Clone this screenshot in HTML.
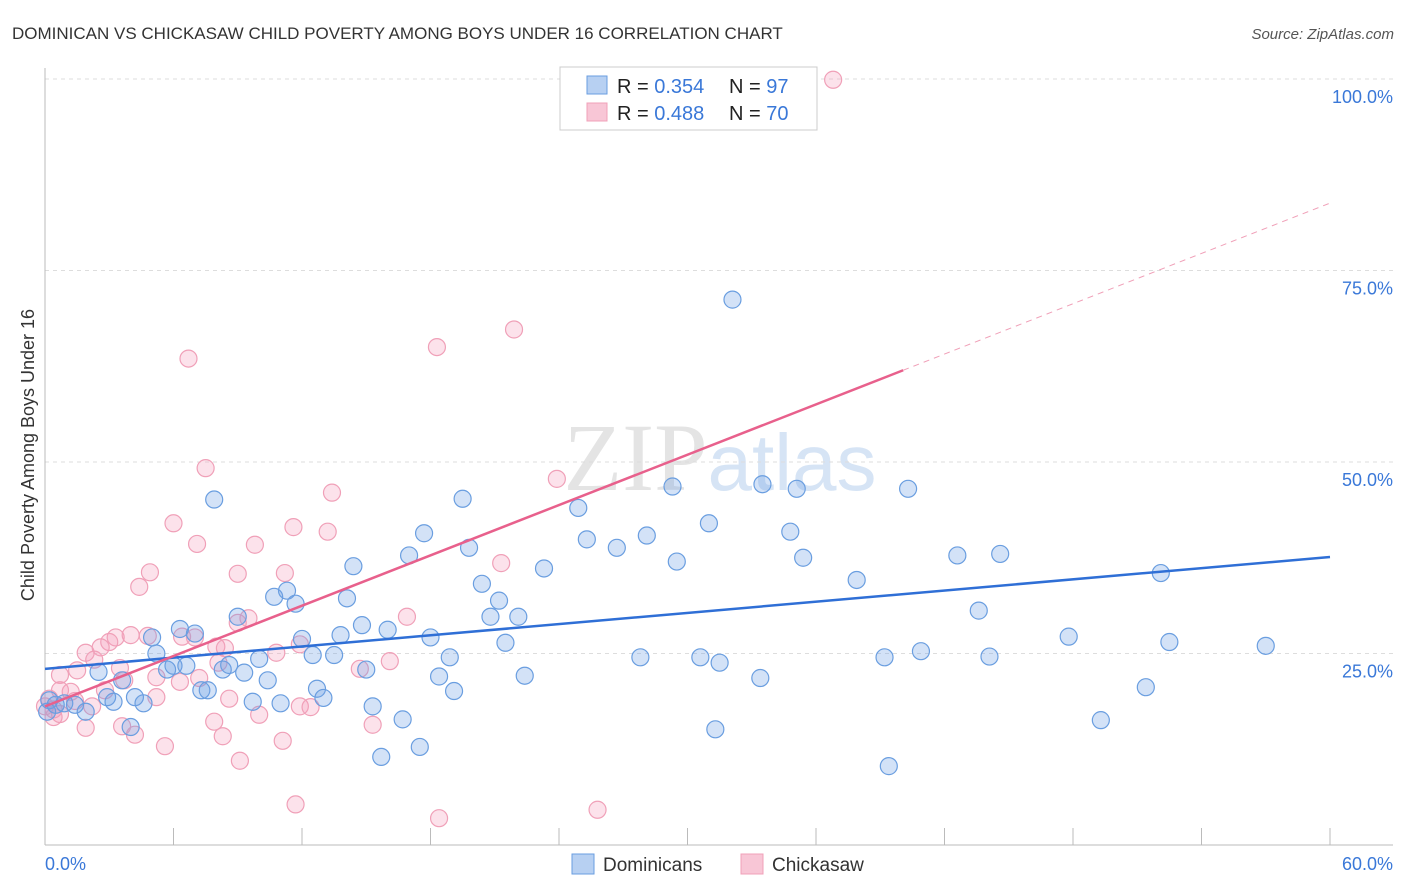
<!DOCTYPE html>
<html><head><meta charset="utf-8"><style>
body{margin:0;background:#fff;font-family:"Liberation Sans",sans-serif}
svg{display:block}
</style></head><body>
<svg id="chart" width="1406" height="892">
<text x="12" y="39" font-size="17" fill="#333">DOMINICAN VS CHICKASAW CHILD POVERTY AMONG BOYS UNDER 16 CORRELATION CHART</text>
<text x="1394" y="39" font-size="15" fill="#555" font-style="italic" text-anchor="end">Source: ZipAtlas.com</text>
<text x="720" y="490" font-size="96" fill="#e4e4e4" text-anchor="middle" font-family="Liberation Serif,serif">ZIP<tspan fill="#d6e4f5" font-family="Liberation Sans,sans-serif" font-size="80">atlas</tspan></text>
<g id="grid"></g>
<g id="axes"></g>
<g id="pts"></g>
<g id="lines"></g>
<text transform="translate(34,455) rotate(-90)" font-size="18" fill="#333" text-anchor="middle">Child Poverty Among Boys Under 16</text>
<g>
<rect x="560" y="67" width="257" height="63" fill="#fff" stroke="#ccc"/>
<rect x="587" y="76" width="20" height="18" fill="#b7d0f2" stroke="#6a9ee0"/>
<text x="617" y="93" font-size="20" fill="#222">R = <tspan fill="#3a78d8">0.354</tspan><tspan x="729">N = </tspan><tspan fill="#3a78d8">97</tspan></text>
<rect x="587" y="103" width="20" height="18" fill="#f8c6d6" stroke="#f0a0b8"/>
<text x="617" y="120" font-size="20" fill="#222">R = <tspan fill="#3a78d8">0.488</tspan><tspan x="729">N = </tspan><tspan fill="#3a78d8">70</tspan></text>
</g>
<g>
<rect x="572" y="854" width="22" height="20" fill="#b7d0f2" stroke="#6a9ee0"/>
<text x="603" y="871" font-size="19" fill="#333">Dominicans</text>
<rect x="741" y="854" width="22" height="20" fill="#f8c6d6" stroke="#f0a0b8"/>
<text x="772" y="871" font-size="19" fill="#333">Chickasaw</text>
</g>
</svg>
<script>
const blueX=[0.2,0.5,0.9,1.4,1.9,2.5,2.9,3.2,3.6,4.0,4.2,4.6,5.0,5.2,5.7,6.0,6.3,6.6,7.0,7.3,7.6,7.9,8.3,8.6,9.0,9.3,9.7,10.0,10.4,10.7,11.0,11.3,11.7,12.0,12.5,12.7,13.0,13.5,13.8,14.1,14.4,14.8,15.0,15.3,15.7,16.0,16.7,17.0,17.5,17.7,18.0,18.4,18.9,19.1,19.5,19.8,20.4,20.8,21.2,21.5,22.1,22.4,23.3,24.9,25.3,26.7,27.8,28.1,29.3,29.5,30.6,31.0,31.3,31.5,32.1,33.4,33.5,34.8,35.1,35.4,37.9,39.2,39.4,40.3,40.9,42.6,43.6,44.1,44.6,47.8,49.3,51.4,52.1,52.5,57.0,0.1];
const blueY=[18.9,18.3,18.5,18.3,17.4,22.6,19.3,18.7,21.5,15.4,19.3,18.5,27.1,25.0,22.9,23.4,28.2,23.4,27.6,20.2,20.2,45.1,22.9,23.5,29.8,22.5,18.7,24.3,21.5,32.4,18.5,33.2,31.5,26.9,24.8,20.4,19.2,24.8,27.4,32.2,36.4,28.7,22.9,18.1,11.5,28.1,16.4,37.8,12.8,40.7,27.1,22.0,24.5,20.1,45.2,38.8,34.1,29.8,31.9,26.4,29.8,22.1,36.1,44.0,39.9,38.8,24.5,40.4,46.8,37.0,24.5,42.0,15.1,23.8,71.2,21.8,47.1,40.9,46.5,37.5,34.6,24.5,10.3,46.5,25.3,37.8,30.6,24.6,38.0,27.2,16.3,20.6,35.5,26.5,26.0,17.4];
const pinkX=[36.8,21.9,18.3,6.7,7.5,23.9,13.4,6.0,11.6,13.2,7.1,9.8,4.9,9.0,11.2,4.4,9.0,9.5,16.9,21.3,11.9,8.0,8.4,7.0,6.4,4.0,4.8,3.3,3.0,2.6,1.9,2.3,1.5,0.7,8.1,10.8,14.7,16.1,6.3,5.2,3.5,3.7,0.7,1.2,2.8,2.2,0.2,0.4,0.7,7.2,5.2,8.6,11.9,12.4,10.0,7.9,3.6,1.9,4.2,8.3,15.3,11.1,9.1,5.6,11.7,18.4,25.8,0.4,0.0,1.4];
const pinkY=[99.9,67.3,65.0,63.5,49.2,47.8,46.0,42.0,41.5,40.9,39.3,39.2,35.6,35.4,35.5,33.7,29.0,29.6,29.8,36.8,26.2,25.9,25.7,27.1,27.2,27.4,27.3,27.1,26.5,25.8,25.1,24.2,22.8,22.2,23.8,25.1,23.0,24.0,21.3,21.9,23.1,21.5,20.2,20.0,20.2,18.1,19.1,16.7,17.1,21.8,19.3,19.1,18.1,18.0,17.0,16.1,15.5,15.3,14.4,14.2,15.7,13.6,11.0,12.9,5.3,3.5,4.6,17.7,18.1,18.8];
const yTicks=[25,50,75,100];
const yTickLabels=["25.0%","50.0%","75.0%","100.0%"];
const xTicks=[0,6,12,18,24,30,36,42,48,54,60];
const blueLine=[23.0,37.6];
const pinkLine=[18.1,83.8];
const pinkSolidEnd=40.07;

const NS="http://www.w3.org/2000/svg";
const X=v=>45+v/60*1285, Y=v=>845-v/100*766;
function mk(t,a,p){const e=document.createElementNS(NS,t);for(const k in a)e.setAttribute(k,a[k]);document.getElementById(p).appendChild(e);return e;}
yTicks.forEach((t,i)=>{
 const l=mk('line',{x1:45,x2:1393,y1:Y(t),y2:Y(t),stroke:'#ddd','stroke-dasharray':'4,4'},'grid');
 
 
 const tx=mk('text',{x:1393,y:Y(t)+24,'font-size':18,fill:'#3a78d8','text-anchor':'end'},'grid');
 tx.textContent=yTickLabels[i];
 
 
});
const ax=mk('line',{x1:45,x2:1393,y1:845,y2:845,stroke:'#bbb'},'axes');


const ay=mk('line',{x1:45,x2:45,y1:68,y2:845,stroke:'#bbb'},'axes');


xTicks.forEach(t=>{
 const l=mk('line',{x1:X(t),x2:X(t),y1:828,y2:845,stroke:'#bbb'},'axes');
 
 
});
const xl0=mk('text',{x:45,y:870,'font-size':18,fill:'#3a78d8'},'axes');xl0.textContent='0.0%';


const xl1=mk('text',{x:1393,y:870,'font-size':18,fill:'#3a78d8','text-anchor':'end'},'axes');xl1.textContent='60.0%';


pinkX.forEach((v,i)=>{
 const c=mk('circle',{cx:X(v),cy:Y(pinkY[i]),r:8.5,fill:'rgba(244,160,188,0.3)',stroke:'#f0a0b8','stroke-width':1.2},'pts');
 
 
});
blueX.forEach((v,i)=>{
 const c=mk('circle',{cx:X(v),cy:Y(blueY[i]),r:8.5,fill:'rgba(110,160,230,0.3)',stroke:'#6a9ee0','stroke-width':1.2},'pts');
 
 
});
const bl=mk('line',{x1:X(0),y1:Y(blueLine[0]),x2:X(60),y2:Y(blueLine[1]),stroke:'#2f6fd6','stroke-width':2.5},'lines');


const pm=(pinkLine[1]-pinkLine[0])/60;
const pl=mk('line',{x1:X(0),y1:Y(pinkLine[0]),x2:X(pinkSolidEnd),y2:Y(pinkLine[0]+pm*pinkSolidEnd),stroke:'#e8608c','stroke-width':2.5},'lines');


const pd=mk('line',{x1:X(pinkSolidEnd),y1:Y(pinkLine[0]+pm*pinkSolidEnd),x2:X(60),y2:Y(pinkLine[1]),stroke:'#f0a0b8','stroke-width':1,'stroke-dasharray':'6,5'},'lines');


</script>
</body></html>
